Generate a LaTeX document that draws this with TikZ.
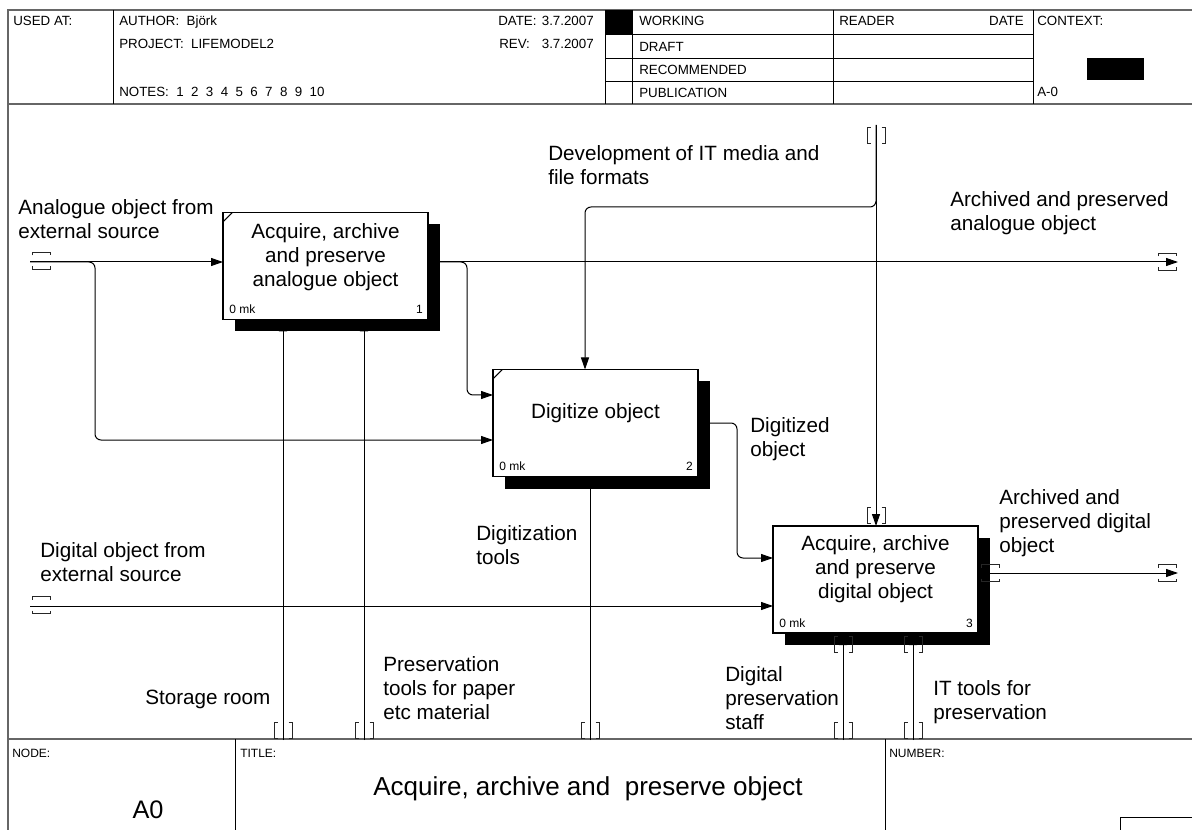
\documentclass[tikz,border=0pt]{standalone}
\usepackage{fontspec}
\setmainfont{Liberation Sans}
\usetikzlibrary{arrows.meta,shadows}
\begin{document}
\begin{tikzpicture}[x=0.75pt,y=-0.75pt,
  frame/.style={draw=black!60,line width=1.2pt},
  rule/.style={draw=black,line width=0.6pt},
  hd/.style={font=\fontsize{10}{12}\selectfont,inner sep=0pt,anchor=base west},
  ft/.style={font=\fontsize{9}{11}\selectfont,inner sep=0pt,anchor=base west},
  lbl/.style={font=\fontsize{15.5}{18}\selectfont,inner sep=0pt,align=left,anchor=north west,execute at begin node=\strut},
  proc/.style={draw,line width=1pt,fill=white,minimum width=153.75pt,minimum height=80.25pt,inner sep=0pt,outer sep=0pt,
    drop shadow={shadow xshift=9pt,shadow yshift=-9pt,opacity=1,fill=black}},
  ptext/.style={font=\fontsize{15.5}{18}\selectfont,inner sep=0pt,align=center,anchor=north,execute at begin node=\strut},
  tag/.style={font=\fontsize{9}{11}\selectfont,inner sep=0pt},
  flow/.style={draw,line width=0.75pt,rounded corners=4.5pt},
  arr/.style={-{Triangle[length=9pt,width=6pt]}},
  tun/.style={line width=0.75pt,black!85},
  vtun/.pic={\draw[tun] (-5.5,-8) -- (-9,-8) -- (-9,8) -- (-5.5,8) (5.5,-8) -- (9,-8) -- (9,8) -- (5.5,8);},
  htun/.pic={\draw[tun] (-9,-5.5) -- (-9,-8.5) -- (9,-8.5) -- (9,-5.5) (-9,5.5) -- (-9,8.5) -- (9,8.5) -- (9,5.5);},
]
\useasboundingbox (0,0) rectangle (1192,830);
\fill[white] (0,0) rectangle (1192,830);

% ---------- form frame ----------
\draw[frame] (8,830) -- (8,10) -- (1192,10);
\draw[frame] (8,104) -- (1192,104);
\draw[frame] (8,739) -- (1192,739);
\draw[rule] (113,10) -- (113,104);
\draw[rule] (605,10) -- (605,104);
\draw[rule] (632,10) -- (632,104);
\draw[rule] (833,10) -- (833,104);
\draw[rule] (1033,10) -- (1033,104);
\draw[rule] (605,34) -- (1033,34) (605,58) -- (1033,58) (605,81) -- (1033,81);
\fill (605,10) rectangle (632,34);
\fill (1087,58) rectangle (1144,80);
\draw[rule] (235,739) -- (235,830);
\draw[rule] (885,739) -- (885,830);
\draw[rule] (1120,830) -- (1120,817) -- (1192,817);

% header texts
\node[hd] (usedat) at (13,26) {USED AT:};
\node[hd] (author) at (119,26) {AUTHOR:\ \ Björk};
\node[hd] (project) at (119,49) {PROJECT:\ \ LIFEMODEL2};
\node[hd] (notes) at (119,97) {NOTES:\ \ 1\ \ 2\ \ 3\ \ 4\ \ 5\ \ 6\ \ 7\ \ 8\ \ 9\ \ 10};
\node[hd] (date) at (498,26) {DATE:};
\node[hd,anchor=base east] (dateval) at (594,26) {3.7.2007};
\node[hd] (rev) at (499,49) {REV:};
\node[hd,anchor=base east] (revval) at (594,49) {3.7.2007};
\node[hd] (working) at (639,26) {WORKING};
\node[hd] (draft) at (639,52) {DRAFT};
\node[hd] (recom) at (639,75) {RECOMMENDED};
\node[hd] (publ) at (639,98) {PUBLICATION};
\node[hd] (reader) at (839,26) {READER};
\node[hd,anchor=base east] (rdate) at (1024,26) {DATE};
\node[hd] (context) at (1037,26) {CONTEXT:};
\node[hd] (aminus) at (1037,97) {A-0};

% footer texts
\node[ft] (nodelbl) at (12,757) {NODE:};
\node[ft] (titlelbl) at (240,757) {TITLE:};
\node[ft] (numlbl) at (889,757) {NUMBER:};
\node[font=\fontsize{19}{22}\selectfont,inner sep=0pt,anchor=base] (nodeval) at (148,818) {A0};
\node[font=\fontsize{19.5}{22}\selectfont,inner sep=0pt,anchor=base] (titleval) at (588,795) {Acquire, archive and\ \ preserve object};

% ---------- activity boxes ----------
\node[proc] (b1) at (325.5,266) {};
\node[proc] (b2) at (595.5,423) {};
\node[proc] (b3) at (875.5,579.5) {};
\draw[line width=0.75pt] ([yshift=-7pt]b1.north west) -- ([xshift=7pt]b1.north west);
\draw[line width=0.75pt] ([yshift=-7pt]b2.north west) -- ([xshift=7pt]b2.north west);

\node[ptext] (t1) at (325.5,223.2) {Acquire, archive\\and preserve\\analogue object};
\node[ptext] (t2) at (595.5,401.2) {Digitize object};
\node[ptext] (t3) at (875.5,535.2) {Acquire, archive\\and preserve\\digital object};

\node[tag,anchor=base west] (k1) at ([shift={(6,-6)}]b1.south west) {0 mk};
\node[tag,anchor=base east] (n1) at ([shift={(-5,-6)}]b1.south east) {1};
\node[tag,anchor=base west] (k2) at ([shift={(6,-6)}]b2.south west) {0 mk};
\node[tag,anchor=base east] (n2) at ([shift={(-5,-6)}]b2.south east) {2};
\node[tag,anchor=base west] (k3) at ([shift={(6,-6)}]b3.south west) {0 mk};
\node[tag,anchor=base east] (n3) at ([shift={(-5,-6)}]b3.south east) {3};

% ---------- arrow ends ----------
\coordinate (ia) at (30,262);
\coordinate (ja) at (95,440);
\coordinate (oa) at (1178,262);
\coordinate (jb) at (467,395);
\coordinate (ct) at (876,125);
\coordinate (jc) at (585,207);
\coordinate (jd) at (737,423);
\coordinate (je) at (737,558);
\coordinate (id) at (30,606);
\coordinate (od) at (1178,573);
\coordinate (m1) at (283,740);
\coordinate (m2) at (364,740);
\coordinate (m3) at (590,740);
\coordinate (m4) at (843,740);
\coordinate (m5) at (913,740);

% inputs
\draw[flow,arr] (ia) -- (ia -| b1.west);
\draw[flow,arr] (ia) -| (ja) -- (ja -| b2.west);
\draw[flow,arr] (id) -- (id -| b3.west);
% outputs
\draw[flow,arr] (oa -| b1.east) -- (oa);
\draw[flow,arr] (oa -| b1.east) -| (jb) -- (jb -| b2.west);
\draw[flow,arr] (b2.east) -- (jd) -- (je) -- (je -| b3.west);
\draw[flow,arr] (od -| b3.east) -- (od);
% control
\draw[flow,arr] (ct) -- (ct |- b3.north);
\draw[flow,arr] (ct) |- (jc) -- (jc |- b2.north);
% mechanisms
\draw[flow,arr] (m1) -- (m1 |- b1.south);
\draw[flow,arr] (m2) -- (m2 |- b1.south);
\draw[flow,arr] (m3) -- (m3 |- b2.south);
\draw[flow,arr] (m4) -- (m4 |- b3.south);
\draw[flow,arr] (m5) -- (m5 |- b3.south);

% tunnel brackets
\pic at (41,261) {htun};
\pic at (41,605) {htun};
\pic at (1167,262) {htun};
\pic at (1167,573) {htun};
\pic at (990,573) {htun};
\pic at (876,136) {vtun};
\pic at (876,515) {vtun};
\pic at (283,730) {vtun};
\pic at (364,730) {vtun};
\pic at (590,730) {vtun};
\pic at (843,730) {vtun};
\pic at (913,730) {vtun};
\pic at (843,644) {vtun};
\pic at (913,644) {vtun};

% ---------- arrow labels ----------
\node[lbl] (l1) at (18,199.2) {Analogue object from\\external source};
\node[lbl] (l2) at (950,191.2) {Archived and preserved\\analogue object};
\node[lbl] (l3) at (548,145.2) {Development of IT media and\\file formats};
\node[lbl] (l4) at (750,417.2) {Digitized\\object};
\node[lbl] (l5) at (999,489.2) {Archived and\\preserved digital\\object};
\node[lbl] (l6) at (40,542.2) {Digital object from\\external source};
\node[lbl] (l7) at (476,525.2) {Digitization\\tools};
\node[lbl] (l8) at (145,687.2) {Storage room};
\node[lbl] (l9) at (383,656.2) {Preservation\\tools for paper\\etc material};
\node[lbl] (l10) at (725,666.2) {Digital\\preservation\\staff};
\node[lbl] (l11) at (933,680.2) {IT tools for\\preservation};
\end{tikzpicture}
\end{document}
